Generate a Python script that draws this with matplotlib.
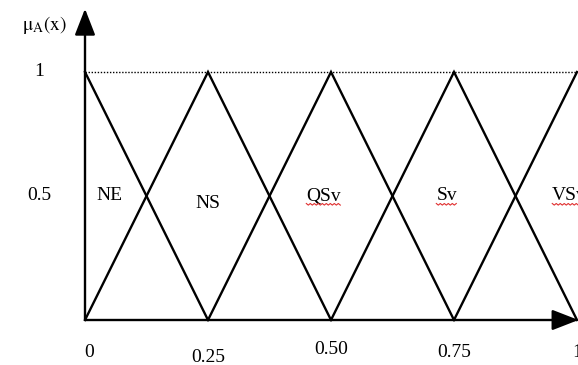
import matplotlib
matplotlib.use("Agg")
import matplotlib.pyplot as plt
import numpy as np

# membership function centres and names
centers = [0.0, 0.25, 0.50, 0.75, 1.0]
half_width = 0.25
set_names = ["NE", "NS", "QSv", "Sv", "VSv"]
spell_flagged = [False, False, True, True, True]
x_tick_labels = ["0", "0.25", "0.50", "0.75", "1"]
y_ticks = [1.0, 0.5]
y_tick_labels = ["1", "0.5"]

plt.rcParams['font.family'] = ['Liberation Serif', 'DejaVu Serif']
plt.rcParams['mathtext.fontset'] = 'stix'

fig = plt.figure(figsize=(5.78, 3.65), dpi=100)
ax = fig.add_axes([85 / 578, 45 / 365, 492 / 578, 248 / 365])
ax.set_xlim(0, 1)
ax.set_ylim(0, 1)
ax.axis('off')

# triangles, cut at the universe edges
for c in centers:
    xs = [max(c - half_width, 0), c, min(c + half_width, 1)]
    ys = [1 - abs(x - c) / half_width for x in xs]
    ax.plot(xs, ys, color='black', lw=1.7, clip_on=False, solid_joinstyle='miter')

# dotted line at mu = 1
ax.plot([0, 1], [1, 1], color='black', lw=1.0, ls=(0, (1, 1.2)), clip_on=False)

# axes with arrow heads
arrow = dict(arrowstyle='-|>,head_length=0.9,head_width=0.35', color='black',
             lw=1.7, shrinkA=0, shrinkB=0, mutation_scale=18)
ax.annotate('', xy=(0, 1.255), xytext=(0, 0), arrowprops=arrow, annotation_clip=False)
ax.annotate('', xy=(1.003, 0), xytext=(0, 0), arrowprops=arrow, annotation_clip=False)

fs = 14
# set names
name_x = [0.05, 0.25, 0.485, 0.735, 0.985]
name_y = [0.50, 0.47, 0.50, 0.50, 0.50]
name_texts = []
for nx, ny, name in zip(name_x, name_y, set_names):
    name_texts.append(ax.text(nx, ny, name, fontsize=fs, ha='center', va='center', clip_on=False))

# red spell-check squiggles under some names
fig.canvas.draw()
renderer = fig.canvas.get_renderer()
for t, flag in zip(name_texts, spell_flagged):
    if not flag:
        continue
    bb = t.get_window_extent(renderer)
    px = np.arange(bb.x0, bb.x1 + 0.1, 2.0)
    py = bb.y0 + 1.0 - np.where(np.arange(len(px)) % 2 == 0, 0, 1.6)
    fig.add_artist(plt.Line2D(px, py, color='#e03030', lw=0.8, transform=None))

# x tick labels
tick_y = [-0.13, -0.15, -0.12, -0.13, -0.13]
for c, ty, lab in zip(centers, tick_y, x_tick_labels):
    ax.text(c + (0.008 if c == 0 else 0), ty, lab, fontsize=fs, ha='center', va='center')

# y tick labels
for yv, lab in zip(y_ticks, y_tick_labels):
    ax.text(-0.093, yv, lab, fontsize=fs, ha='center', va='center')

ax.text(-0.082, 1.19, r'$\mathrm{μ_A(x)}$', fontsize=fs, ha='center', va='center')

fig.savefig("out.png", dpi=100)
